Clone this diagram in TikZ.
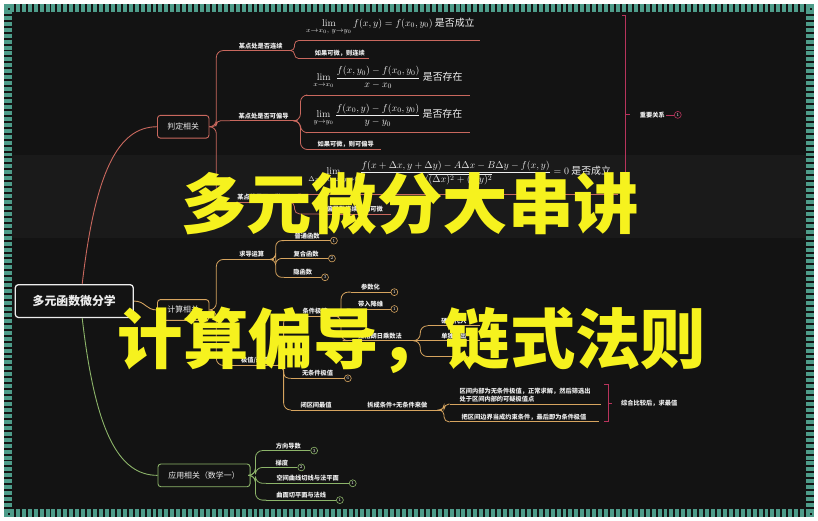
\documentclass[tikz,border=0pt]{standalone}
\usepackage{amsmath}
\usepackage{fontspec}
\newfontfamily\cjk{Noto Sans CJK SC}
\usetikzlibrary{positioning}
\definecolor{bgc}{HTML}{131313}
\definecolor{band}{HTML}{1A1A1A}
\definecolor{stripc}{HTML}{4E9C8A}
\definecolor{pdc}{HTML}{C9685E}
\definecolor{jsc}{HTML}{D6A45F}
\definecolor{yyc}{HTML}{8DB56A}
\definecolor{brc}{HTML}{B8345C}
\definecolor{labc}{HTML}{EDEDED}
\definecolor{ovc}{HTML}{F6F21E}

\begin{document}
\begin{tikzpicture}[x=1pt,y=-1pt]
	\tikzstyle{lab} = [font=\cjk\bfseries\fontsize{6.3}{8}\selectfont,text=labc,inner xsep=1pt,inner ysep=1.6pt,anchor=south west]
	\tikzstyle{fml} = [font=\cjk\fontsize{10}{12}\selectfont,text=labc!90,inner xsep=0pt,inner ysep=6pt,anchor=south west]
	\tikzstyle{box} = [draw,rounded corners=3pt,fill=bgc,text=labc,font=\cjk\fontsize{8}{9}\selectfont,line width=0.9pt,minimum height=23pt]
	\tikzstyle{num} = [circle,draw,line width=0.6pt,minimum size=7pt,inner sep=0pt,text=labc!80,font=\fontsize{4.5}{5}\selectfont]
	\tikzstyle{br} = [line width=0.8pt,rounded corners=7pt]
	\tikzstyle{ovl} = [font=\cjk\bfseries\fontsize{66}{70}\selectfont,text=ovc,inner sep=0pt]

	% background and frame
	\fill[bgc] (0,0) rectangle (818,518);
	\fill[band] (8,153) rectangle (810,236);
	\draw[stripc,line width=8pt,dash pattern=on 4pt off 2pt] (0,4) -- (818,4);
	\draw[stripc,line width=8pt,dash pattern=on 4pt off 2pt] (0,514) -- (818,514);
	\draw[stripc,line width=8pt,dash pattern=on 4pt off 2pt] (4,0) -- (4,518);
	\draw[stripc,line width=8pt,dash pattern=on 4pt off 2pt] (814,0) -- (814,518);

	% main nodes
	\node[box,draw=labc,line width=1.3pt,minimum width=119pt,minimum height=33pt,font=\cjk\bfseries\fontsize{12}{14}\selectfont] (root) at (71,300) {多元函数微分学};
	\node[box,draw=pdc,minimum width=52pt] (pd) at (181,124) {判定相关};
	\node[box,draw=jsc,minimum width=52pt,minimum height=21pt] (js) at (181,309) {计算相关};
	\node[box,draw=yyc,minimum width=93pt] (yy) at (202,476) {应用相关（数学一）};

	\draw[pdc,line width=0.9pt] ([xshift=8pt]root.north) .. controls (92,170) and (115,124) .. (pd.west);
	\draw[jsc,line width=0.9pt] (root.east) .. controls (143,300) and (143,309) .. (js.west);
	\draw[yyc,line width=0.9pt] ([xshift=8pt]root.south) .. controls (92,430) and (115,476) .. (yy.west);

	% judging part
	\node[lab,minimum width=62pt] (lxu) at (228,47) {某点处是否连续};
	\node[fml,minimum width=180pt] (f1) at (300,37) {$\displaystyle\lim_{x\to x_0,\ y\to y_0} f(x,y)=f(x_0,y_0)$ 是否成立};
	\node[lab,minimum width=58pt] (lkw) at (310,55) {如果可微，则连续};
	\node[lab,minimum width=68pt] (lpd) at (228,118) {某点处是否可偏导};
	\node[fml,minimum width=165pt] (f2) at (305,92) {$\displaystyle\lim_{x\to x_0}\frac{f(x,y_0)-f(x_0,y_0)}{x-x_0}$ 是否存在};
	\node[fml,minimum width=165pt] (f3) at (305,130) {$\displaystyle\lim_{y\to y_0}\frac{f(x_0,y)-f(x_0,y_0)}{y-y_0}$ 是否存在};
	\node[lab,minimum width=70pt] (lkp) at (310,147) {如果可微，则可偏导};
	\node[lab,minimum width=65pt] (lwf) at (225,200) {某点处是否可微};
	\node[fml,minimum width=320pt,inner ysep=8pt] (f4) at (300,192) {$\displaystyle\lim_{\Delta x\to0,\ \Delta y\to0}\frac{f(x+\Delta x,y+\Delta y)-A\Delta x-B\Delta y-f(x,y)}{\sqrt{(\Delta x)^2+(\Delta y)^2}}=0$ 是否成立};
	\node[lab,minimum width=72pt] (lkw2) at (318,212) {偏导数连续，则可微};

	\foreach \n in {lxu,f1,lkw,lpd,f2,f3,lkp,lwf,f4,lkw2}
		\draw[pdc,line width=0.8pt] (\n.south west) -- (\n.south east);
	\draw[pdc,br] (pd.east) -- ++(7,0) |- (lxu.south west);
	\draw[pdc,br,rounded corners=4pt] (pd.east) -- ++(7,0) |- (lpd.south west);
	\draw[pdc,br] (pd.east) -- ++(7,0) |- (lwf.south west);
	\draw[pdc,br,rounded corners=4pt] (lxu.south east) -- ++(3,0) |- (f1.south west);
	\draw[pdc,br,rounded corners=4pt] (lxu.south east) -- ++(3,0) |- (lkw.south west);
	\draw[pdc,br] (lpd.south east) -- ++(3,0) |- (f2.south west);
	\draw[pdc,br] (lpd.south east) -- ++(3,0) |- (f3.south west);
	\draw[pdc,br] (lpd.south east) -- ++(3,0) |- (lkp.south west);
	\draw[pdc,br,rounded corners=4pt] (lwf.south east) -- ++(3,0) |- (f4.south west);
	\draw[pdc,br,rounded corners=5pt] (lwf.south east) -- ++(3,0) |- (lkw2.south west);

	\draw[brc,line width=0.8pt] (624,12) -- (628,12) -- (628,212) -- (624,212);
	\draw[brc,line width=0.8pt] (628,112) -- (632,112);
	\node[lab,anchor=west] (k1) at (641,112) {重要关系};
	\node[num,draw=brc,right=8pt of k1] (k1n) {1};
	\draw[brc,line width=0.6pt] (k1.east) -- (k1n.west);

	% computing part
	\node[lab,minimum width=44pt] (lqd) at (228,258) {求导运算};
	\node[lab,minimum width=46pt] (l11) at (283,239) {普通函数};
	\node[lab,minimum width=44pt] (l12) at (283,257) {复合函数};
	\node[lab,minimum width=37pt] (l13) at (283,276) {隐函数};
	\node[lab,minimum width=50pt] (ljz) at (228,365) {极值/最值};
	\node[lab,minimum width=48pt] (ltj) at (290,315) {条件极值};
	\node[lab,minimum width=40pt] (l21) at (350,291) {参数化};
	\node[lab,minimum width=40pt] (l22) at (350,308) {带入降维};
	\node[lab,minimum width=75pt] (l23) at (342,340) {拉格朗日乘数法};
	\node[lab,minimum width=52pt] (l31) at (428,325) {硬核代入};
	\node[lab,minimum width=52pt] (l32) at (428,340) {单独拿出};
	\node[lab,minimum width=40pt] (l33) at (428,356) {};
	\node[lab,minimum width=53pt] (lwt) at (290,378) {无条件极值};
	\node[lab,minimum width=50pt] (lbq) at (290,410) {闭区间最值};
	\node[lab,minimum width=90pt] (lcc) at (352,410) {拆成条件+无条件来做};
	\node[lab,minimum width=152pt,align=left] (lqn) at (450,404) {区间内部为无条件极值，正常求解，然后筛选出\\处于区间内部的可疑极值点};
	\node[lab,minimum width=150pt] (lbj) at (450,422) {把区间边界当成约束条件，最后即为条件极值};

	\foreach \n in {lqd,l11,l12,l13,ljz,ltj,l21,l22,l23,l31,l32,l33,lwt,lbq,lcc,lqn,lbj}
		\draw[jsc,line width=0.8pt] (\n.south west) -- (\n.south east);
	\draw[jsc,br] (js.east) -- ++(7,0) |- (lqd.south west);
	\draw[jsc,br] (js.east) -- ++(7,0) |- (ljz.south west);
	\draw[jsc,br,rounded corners=6pt] (lqd.south east) -- ++(2,0) |- (l11.south west);
	\draw[jsc,br,rounded corners=6pt] (lqd.south east) -- ++(2,0) |- (l12.south west);
	\draw[jsc,br,rounded corners=6pt] (lqd.south east) -- ++(2,0) |- (l13.south west);
	\draw[jsc,br] (ljz.south east) -- ++(4,0) |- (ltj.south west);
	\draw[jsc,br,rounded corners=5pt] (ljz.south east) -- ++(4,0) |- (lwt.south west);
	\draw[jsc,br] (ljz.south east) -- ++(4,0) |- (lbq.south west);
	\draw[jsc,br] (ltj.south east) -- ++(2,0) |- (l21.south west);
	\draw[jsc,br] (ltj.south east) -- ++(2,0) |- (l22.south west);
	\draw[jsc,br] (ltj.south east) -- ++(2,0) |- (l23.south west);
	\draw[jsc,br] (l23.south east) -- ++(3,0) |- (l31.south west);
	\draw[jsc,br] (l23.south east) -- (l32.south west);
	\draw[jsc,br] (l23.south east) -- ++(3,0) |- (l33.south west);
	\draw[jsc,br] (lbq.south east) -- (lcc.south west);
	\draw[jsc,br,rounded corners=5pt] (lcc.south east) -- ++(2,0) |- (lqn.south west);
	\draw[jsc,br,rounded corners=5pt] (lcc.south east) -- ++(2,0) |- (lbj.south west);

	\node[num,draw=jsc,right=0pt of l11.south east] (n11) {1};
	\node[num,draw=jsc,right=0pt of l12.south east] (n12) {2};
	\node[num,draw=jsc,right=0pt of l13.south east] (n13) {3};
	\node[num,draw=jsc,right=0pt of l21.south east] (n21) {1};
	\node[num,draw=jsc,right=0pt of l22.south east] (n22) {1};
	\node[num,draw=jsc,right=0pt of lwt.south east] (nwt) {6};

	\draw[brc,line width=0.8pt] (606,384) -- (610,384) -- (610,422) -- (606,422);
	\draw[brc,line width=0.8pt] (610,403) -- (614,403);
	\node[lab,anchor=west] (k2) at (622,403) {综合比较后，求最值};

	% application part
	\node[lab,minimum width=44pt] (l41) at (265,451) {方向导数};
	\node[lab,minimum width=31pt] (l42) at (265,468) {梯度};
	\node[lab,minimum width=83pt] (l43) at (265,484) {空间曲线切线与法平面};
	\node[lab,minimum width=70pt] (l44) at (265,501) {曲面切平面与法线};
	\foreach \n in {l41,l42,l43,l44}
		\draw[yyc,line width=0.8pt] (\n.south west) -- (\n.south east);
	\draw[yyc,br] (yy.east) -- ++(5,0) |- (l41.south west);
	\draw[yyc,br] (yy.east) -- ++(5,0) |- (l42.south west);
	\draw[yyc,br] (yy.east) -- ++(5,0) |- (l43.south west);
	\draw[yyc,br] (yy.east) -- ++(5,0) |- (l44.south west);
	\node[num,draw=yyc,right=0pt of l41.south east] (n41) {3};
	\node[num,draw=yyc,right=0pt of l42.south east] (n42) {2};
	\node[num,draw=yyc,right=0pt of l43.south east] (n43) {1};
	\node[num,draw=yyc,right=0pt of l44.south east] (n44) {1};

	% title overlay
	\node[ovl] (t1) at (410,202) {多元微分大串讲};
	\node[ovl] (t2) at (412,340) {计算偏导，链式法则};
\end{tikzpicture}
\end{document}
